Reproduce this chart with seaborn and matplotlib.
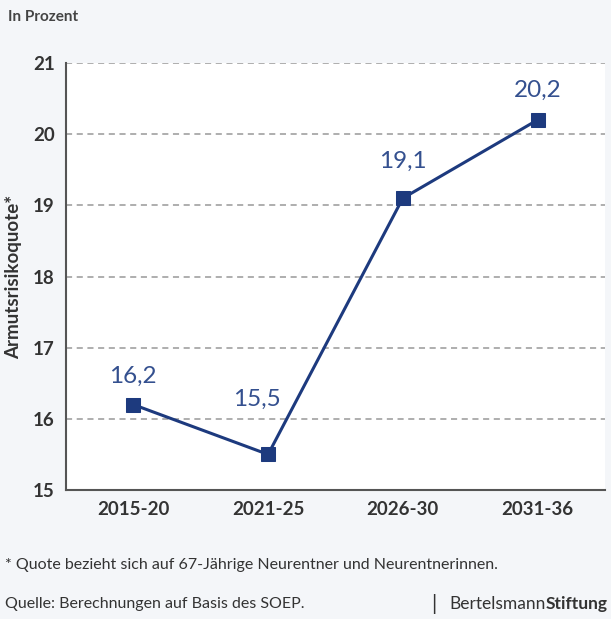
import matplotlib
matplotlib.use("Agg")
import seaborn as sns
import pandas as pd
from matplotlib import pyplot as plt

periods = ["2015-20", "2021-25", "2026-30", "2031-36"]
quote = [16.2, 15.5, 19.1, 20.2]
value_labels = ["16,2", "15,5", "19,1", "20,2"]
y_ticks = [15, 16, 17, 18, 19, 20, 21]

df = pd.DataFrame({"period": periods, "quote": quote})

sns.set_style("white")
plt.rcParams["font.family"] = ["Lato", "DejaVu Sans"]

bg = "#f4f6f9"
navy = "#1d3a7e"
label_col = "#34508f"
dark = "#333333"

fig = plt.figure(figsize=(6.11, 6.19), dpi=100, facecolor=bg)
ax = fig.add_axes([0.108, 0.2084, 0.882, 0.6898])
ax.set_facecolor("white")

sns.lineplot(data=df, x="period", y="quote", ax=ax, color=navy, linewidth=2.2,
             marker="s", markersize=10, markeredgecolor=navy, sort=False)

# label offsets in points (dx, dy)
offsets = [(0, 13), (-8, 32), (0, 19), (0, 14)]
for i, (v, lab) in enumerate(zip(quote, value_labels)):
    ax.annotate(lab, (i, v), xytext=offsets[i], textcoords="offset points",
                ha="center", va="bottom", fontsize=17.5, color=label_col)

ax.set_xlim(-0.5, 3.5)
ax.set_ylim(15, 21)
ax.set_yticks(y_ticks)
ax.yaxis.grid(True, linestyle=(0, (4, 3)), color="#999999", linewidth=1.1)
ax.set_axisbelow(True)
for s in ["top", "right"]:
    ax.spines[s].set_visible(False)
for s in ["left", "bottom"]:
    ax.spines[s].set_color("#555555")
    ax.spines[s].set_linewidth(1.5)
ax.tick_params(axis="both", length=0, pad=8, labelsize=13.5, colors=dark)
for t in ax.get_xticklabels() + ax.get_yticklabels():
    t.set_fontweight("bold")
ax.set_xlabel("")
ax.set_ylabel("Armutsrisikoquote*", fontsize=13.5, fontweight="bold", color=dark, labelpad=8)

fig.text(0.013, 0.972, "In Prozent", fontsize=11, fontweight="bold", color="#444444", va="center")
fig.text(0.008, 0.087, "* Quote bezieht sich auf 67-Jährige Neurentner und Neurentnerinnen.",
         fontsize=11.5, color=dark, va="center")
fig.text(0.008, 0.024, "Quelle: Berechnungen auf Basis des SOEP.", fontsize=11.5, color=dark, va="center")

# brand name: regular + bold part, right aligned
t_bold = fig.text(0.995, 0.024, "Stiftung", fontsize=12.5, fontweight="bold", color=dark,
                  va="center", ha="right")
fig.canvas.draw()
bb = t_bold.get_window_extent()
W = fig.bbox.width
fig.text(bb.x0 / W, 0.024, "Bertelsmann", fontsize=12.5, color=dark, va="center", ha="right")
fig.text(0.705, 0.024, "|", fontsize=15, color=dark, va="center")

fig.savefig("out.png", dpi=100, facecolor=bg)
